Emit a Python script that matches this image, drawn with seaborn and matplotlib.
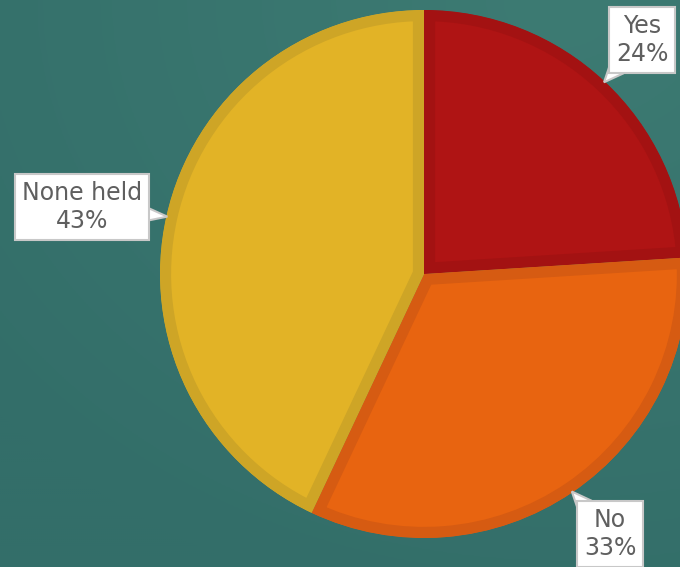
import numpy as np
import matplotlib
matplotlib.use("Agg")
import matplotlib.pyplot as plt
from matplotlib.patches import Polygon
import seaborn as sns

labels = ["Yes", "No", "None held"]
shares = [24, 33, 43]
face_colors = ["#AF1414", "#E86410", "#E2B326"]
edge_colors = ["#A31212", "#D65B12", "#CEA526"]
label_pos = [(642, 527), (610, 33), (82, 360)]

sns.set_theme(style="white")
plt.rcParams["font.family"] = ["DejaVu Sans"]

W, H = 680, 567
fig = plt.figure(figsize=(W / 100, H / 100), dpi=100)
ax = fig.add_axes([0, 0, 1, 1])

# background gradient (teal)
yy, xx = np.mgrid[0:H:2, 0:W:2]
d = np.sqrt(((xx - 560) / W) ** 2 + ((yy - 567) / H) ** 2)
t = np.clip(d / 1.1, 0, 1)
c1 = np.array([0x3D, 0x7B, 0x73]) / 255
c2 = np.array([0x33, 0x6E, 0x69]) / 255
img = c1[None, None, :] * (1 - t[..., None]) + c2[None, None, :] * t[..., None]
ax.imshow(img, extent=[0, W, 0, H], origin="lower", zorder=0, aspect="auto")

cx, cy, R = 424, 293, 264
lw = 16  # points; clipped to the wedge so only the inner half shows
wedges, _ = ax.pie(shares, colors=face_colors, startangle=90, counterclock=False,
                   center=(cx, cy), radius=R, frame=True,
                   wedgeprops=dict(linewidth=lw, joinstyle="miter"))
ax.set_xlim(0, W)
ax.set_ylim(0, H)
ax.set_aspect("equal")
ax.axis("off")
for w, ec in zip(wedges, edge_colors):
    w.set_edgecolor(ec)
    w.set_zorder(2)
    w.set_clip_on(True)
    w.set_clip_path(w.get_path(), w.get_transform())

texts = []
tips = []
for w, lab, s, pos in zip(wedges, labels, shares, label_pos):
    mid = np.deg2rad((w.theta1 + w.theta2) / 2)
    tip = (cx + (R - 1) * np.cos(mid), cy + (R - 1) * np.sin(mid))
    tx = ax.text(pos[0], pos[1], f"{lab}\n{s}%", ha="center", va="center",
                 fontsize=17, color="#5F5F5F", linespacing=1.25, zorder=5,
                 bbox=dict(boxstyle="square,pad=0.28", fc="white", ec="#C8C8C8", lw=1.5))
    texts.append(tx)
    tips.append(tip)

fig.canvas.draw()
inv = ax.transData.inverted()
for tx, tip in zip(texts, tips):
    bb = tx.get_bbox_patch().get_window_extent()
    (x0, y0), (x1, y1) = inv.transform([(bb.x0, bb.y0), (bb.x1, bb.y1)])
    bx, by = (x0 + x1) / 2, (y0 + y1) / 2
    dx, dy = tip[0] - bx, tip[1] - by
    sx = (x1 - bx) / abs(dx) if dx != 0 else np.inf
    sy = (y1 - by) / abs(dy) if dy != 0 else np.inf
    s_edge = min(sx, sy)
    ex, ey = bx + dx * s_edge, by + dy * s_edge
    L = np.hypot(dx, dy)
    ux, uy = dx / L, dy / L
    ex, ey = ex - ux * 6, ey - uy * 6
    px, py = -uy, ux
    hw = 8
    poly = Polygon([(ex + px * hw, ey + py * hw), tip, (ex - px * hw, ey - py * hw)],
                   closed=True, fc="white", ec="#C8C8C8", lw=1.5, zorder=4)
    ax.add_patch(poly)

fig.savefig("out.png", dpi=100)
